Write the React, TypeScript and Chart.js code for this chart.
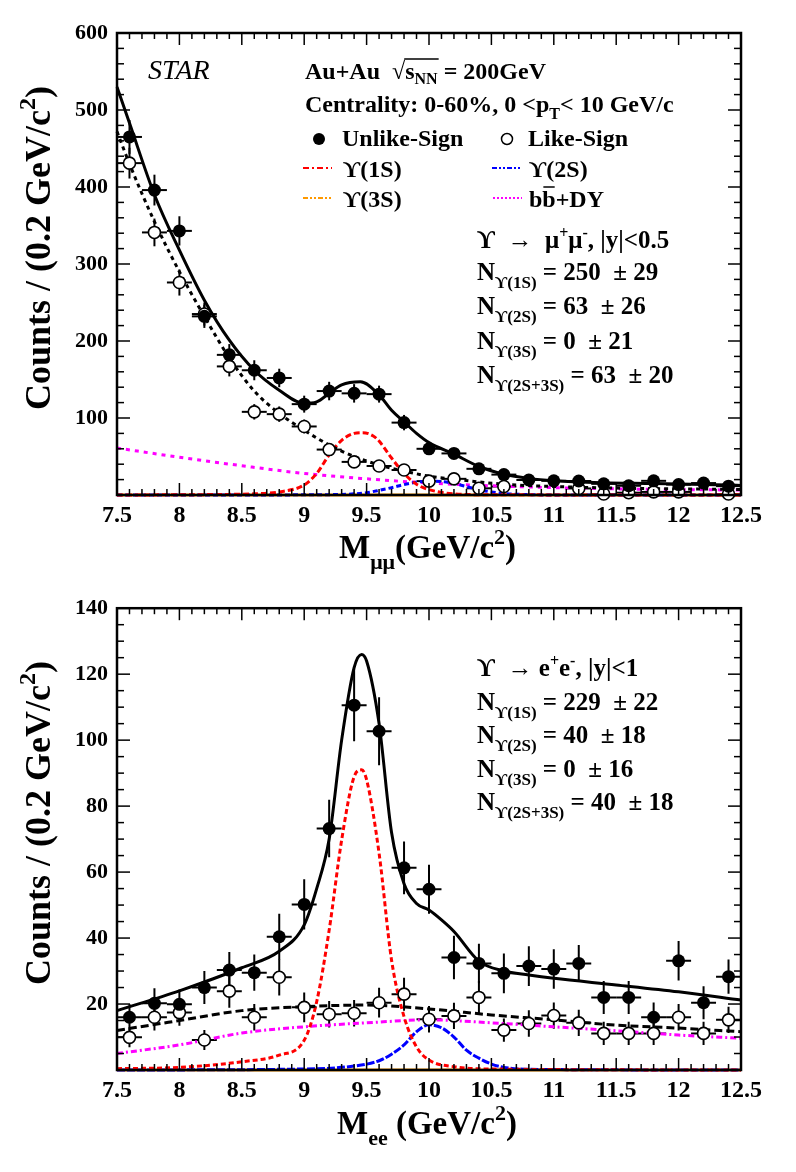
import React, { useEffect, useRef } from "react";
import { Chart, registerables } from "chart.js";
Chart.register(...registerables);

const FONT = '"Liberation Serif", "Times New Roman", "DejaVu Serif", serif';
const PAGE_W = 796;
const PANEL_H = 586;

// ---------- shared ----------
const binCenters = [7.6, 7.8, 8.0, 8.2, 8.4, 8.6, 8.8, 9.0, 9.2, 9.4, 9.6, 9.8, 10.0, 10.2, 10.4, 10.6, 10.8, 11.0, 11.2, 11.4, 11.6, 11.8, 12.0, 12.2, 12.4];
const binHalfWidth = 0.1;
const xTickLabels = ["7.5", "8", "8.5", "9", "9.5", "10", "10.5", "11", "11.5", "12", "12.5"];

// ---------- top panel: Upsilon -> mu+ mu- ----------
const muYTickLabels = ["", "100", "200", "300", "400", "500", "600"];
const muUnlike = [465, 396, 343, 232, 182, 162, 152, 118, 135, 132, 131, 94, 60, 54, 34, 26.5, 19.5, 18.4, 18.2, 14.5, 12, 18.4, 13.5, 15.5, 11.5];
const muUnlikeErr = [22, 20, 19, 15, 14, 13, 12, 11, 12, 12, 11, 10, 8, 7, 6, 5, 4.5, 4.5, 4.5, 4, 3.5, 4.5, 3.5, 4, 3.5];
const muLike = [431, 341, 276, 235, 167, 108, 105, 89, 59, 43, 37.7, 32.5, 18, 21, 8.7, 11, null, null, 8.5, 1.3, 3, 4, 4, null, 1.3];
const muLikeErr = [20, 18, 17, 15, 13, 10, 10, 9, 8, 6.5, 6, 5.5, 4.5, 4.5, 3, 3.5, 0, 0, 3, 1, 2, 2, 2, 0, 1];

const muTotalX = [7.5, 7.6, 7.8, 8.0, 8.2, 8.4, 8.6, 8.8, 9.0, 9.1, 9.2, 9.3, 9.45, 9.6, 9.7, 9.8, 9.9, 10.0, 10.2, 10.4, 10.6, 10.8, 11.0, 11.4, 11.8, 12.4, 12.5];
const muTotalY = [530, 483, 390, 318, 253, 201, 162, 136, 119, 121, 132, 143, 147, 130, 110, 95, 80, 68, 53, 37, 27, 21.6, 18.6, 16, 15, 13, 12.5];
const muLikeFitX = [7.5, 7.6, 7.8, 8.0, 8.2, 8.4, 8.6, 8.8, 9.0, 9.2, 9.4, 9.6, 9.8, 10.0, 10.2, 10.6, 11.0, 11.6, 12.4, 12.5];
const muLikeFitY = [472, 430, 355, 290, 232, 178, 135, 106, 84, 65, 50, 39, 31, 24.5, 20.5, 14, 11, 8.7, 7.4, 7.2];
const mu1SX = [7.5, 8.0, 8.4, 8.6, 8.8, 9.0, 9.1, 9.2, 9.3, 9.4, 9.47, 9.55, 9.6, 9.7, 9.8, 9.9, 10.0, 10.2, 10.5, 12.5];
const mu1SY = [0, 0.3, 0.8, 1.5, 4, 13, 28, 52, 71, 80, 81, 77, 70, 48, 28, 14, 7, 1.5, 0.3, 0];
const mu2SX = [7.5, 9.0, 9.3, 9.4, 9.5, 9.6, 9.7, 9.8, 9.9, 10.0, 10.1, 10.2, 10.3, 10.4, 10.5, 10.6, 10.8, 11.0, 12.5];
const mu2SY = [0, 0.2, 0.8, 1.5, 3, 6, 9.5, 13.5, 16.5, 18, 17.5, 15, 11, 7, 4, 2, 0.5, 0.1, 0];
const mu3SX = [7.5, 12.5];
const mu3SY = [0, 0];
const muBbX = [7.5, 8.0, 8.5, 9.0, 9.5, 10.0, 10.5, 11.0, 11.5, 12.0, 12.5];
const muBbY = [61, 49, 38, 28, 21, 15.5, 12, 9.5, 8, 7, 6.5];
const muYields = [["1S", "250", "29"], ["2S", "63", "26"], ["3S", "0", "21"], ["2S+3S", "63", "20"]];

// ---------- bottom panel: Upsilon -> e+ e- ----------
const eeYTickLabels = ["", "20", "40", "60", "80", "100", "120", "140"];
const eeUnlike = [16, 20.2, 19.9, 25, 30.3, 29.5, 40.4, 50.2, 73.2, 110.6, 102.7, 61.3, 54.8, 34.1, 32.3, 29.3, 31.5, 30.6, 32.3, 22, 22, 16, 33.1, 20.4, 28.3];
const eeUnlikeErr = [4, 4.6, 4.5, 5, 5.5, 5.5, 7, 7.6, 8.7, 10.9, 10.3, 8, 7.4, 6.6, 6, 6, 6, 6, 5.6, 5, 5, 4.5, 6, 5, 5.2];
const eeLike = [9.9, 16, 17.4, 9.1, 23.9, 16, 28.1, 19, 16.9, 17.2, 20.4, 23, 15.4, 16.4, 22, 12.1, 14.1, 16.5, 14.3, 11.1, 11.1, 11.1, 16, 11.1, 15.2];
const eeLikeErr = [3, 4, 4, 3, 5, 4, 5.5, 4.5, 4, 4, 4.5, 5, 4, 4, 5, 3.5, 4, 4, 4, 3.5, 3.5, 3.5, 4, 3.5, 4];

const eeTotalX = [7.5, 8.0, 8.5, 8.8, 9.0, 9.1, 9.2, 9.3, 9.4, 9.46, 9.5, 9.6, 9.7, 9.8, 9.9, 10.0, 10.1, 10.2, 10.4, 10.6, 10.8, 11.0, 11.5, 12.0, 12.5];
const eeTotalY = [18, 24, 31, 36, 44, 55, 70, 100, 122, 126, 124, 105, 72, 56.5, 50.5, 48.5, 45.5, 42, 33, 30, 28.8, 27.8, 25.8, 23.7, 21.2];
const eeLikeFitX = [7.5, 8.0, 8.5, 9.0, 9.5, 10.0, 10.5, 11.0, 11.5, 12.0, 12.5];
const eeLikeFitY = [12, 15, 18, 19.2, 19.7, 18.5, 16.7, 15.2, 13.6, 12.7, 11.6];
const ee1SX = [7.5, 8.0, 8.5, 8.8, 9.0, 9.1, 9.2, 9.3, 9.4, 9.46, 9.5, 9.6, 9.7, 9.8, 9.9, 10.0, 10.2, 10.5, 12.5];
const ee1SY = [0.4, 0.8, 2.5, 4.5, 9, 20.7, 42.4, 69.7, 88.9, 91, 88, 65.7, 33.3, 16.2, 7, 3, 1, 0.3, 0];
const ee2SX = [7.5, 9.0, 9.4, 9.6, 9.7, 9.8, 9.9, 10.0, 10.1, 10.2, 10.3, 10.4, 10.5, 10.6, 10.8, 12.5];
const ee2SY = [0, 0.3, 1.2, 2.8, 4.8, 7.6, 11.6, 13.7, 12.8, 10, 6, 3.6, 1.8, 0.8, 0.2, 0];
const ee3SX = [7.5, 12.5];
const ee3SY = [0, 0];
const eeBbX = [7.5, 8.0, 8.5, 9.0, 9.5, 10.0, 10.5, 11.0, 11.5, 12.0, 12.5];
const eeBbY = [5, 7.6, 11.2, 13.1, 14.3, 15.2, 14.3, 13.1, 11.9, 10.6, 9.6];
const eeYields = [["1S", "229", "22"], ["2S", "40", "18"], ["3S", "0", "16"], ["2S+3S", "40", "18"]];

// ---------- helpers ----------
type Seg = { t: string; s?: number; dy?: number };

function rich(ctx: CanvasRenderingContext2D, x: number, y: number, segs: Seg[], size: number, style = "bold"): number {
  let cx = x;
  for (const g of segs) {
    const sz = g.s ?? size;
    ctx.font = `${style} ${sz}px ${FONT}`;
    ctx.fillText(g.t, cx, y + (g.dy ?? 0));
    cx += ctx.measureText(g.t).width;
  }
  return cx;
}
function richWidth(ctx: CanvasRenderingContext2D, segs: Seg[], size: number, style = "bold"): number {
  let w = 0;
  for (const g of segs) {
    ctx.font = `${style} ${g.s ?? size}px ${FONT}`;
    w += ctx.measureText(g.t).width;
  }
  return w;
}
function seg(ctx: CanvasRenderingContext2D, x1: number, y1: number, x2: number, y2: number) {
  ctx.beginPath();
  ctx.moveTo(x1, y1);
  ctx.lineTo(x2, y2);
  ctx.stroke();
}

function pts(xs: number[], ys: (number | null)[], es?: number[]) {
  const out: any[] = [];
  xs.forEach((x, i) => {
    const y = ys[i];
    if (y === null || y === undefined) return;
    out.push({ x, y, e: es ? es[i] : 0 });
  });
  return out;
}

function curve(xs: number[], ys: number[], color: string, width: number, dash: number[]) {
  return {
    data: pts(xs, ys),
    showLine: true,
    pointRadius: 0,
    borderColor: color,
    borderWidth: width,
    borderDash: dash,
    cubicInterpolationMode: "monotone",
    fill: false,
    clip: 3,
  };
}

const framePlugin = (yMinor: number, yMajorEvery: number) => ({
  id: "frame",
  afterDraw(chart: any) {
    const { ctx, chartArea: a, scales } = chart;
    const xs = scales.x;
    const ys = scales.y;
    ctx.save();
    ctx.strokeStyle = "#000";
    ctx.setLineDash([]);
    ctx.lineWidth = 1.5;
    const nx = Math.round((xs.max - xs.min) / 0.1);
    for (let i = 0; i <= nx; i++) {
      const px = xs.getPixelForValue(xs.min + i * 0.1);
      const len = i % 5 === 0 ? 12 : 6;
      seg(ctx, px, a.bottom, px, a.bottom - len);
      seg(ctx, px, a.top, px, a.top + len);
    }
    const ny = Math.round((ys.max - ys.min) / yMinor);
    for (let i = 0; i <= ny; i++) {
      const py = ys.getPixelForValue(ys.min + i * yMinor);
      const len = i % yMajorEvery === 0 ? 13 : 7;
      seg(ctx, a.left, py, a.left + len, py);
      seg(ctx, a.right, py, a.right - len, py);
    }
    ctx.lineWidth = 2.5;
    ctx.strokeRect(a.left, a.top, a.right - a.left, a.bottom - a.top);
    ctx.restore();
  },
});

const errorBarPlugin = {
  id: "errbars",
  beforeDatasetsDraw(chart: any) {
    const { ctx, chartArea: a, scales } = chart;
    const xs = scales.x;
    const ys = scales.y;
    ctx.save();
    ctx.beginPath();
    ctx.rect(a.left, a.top, a.right - a.left, a.bottom - a.top);
    ctx.clip();
    ctx.strokeStyle = "#000";
    ctx.lineWidth = 2;
    ctx.setLineDash([]);
    chart.data.datasets.forEach((ds: any) => {
      if (!ds.errBars) return;
      ds.data.forEach((p: any) => {
        const px = xs.getPixelForValue(p.x);
        const py = ys.getPixelForValue(p.y);
        seg(ctx, xs.getPixelForValue(p.x - binHalfWidth), py, xs.getPixelForValue(p.x + binHalfWidth), py);
        if (p.e > 0) seg(ctx, px, ys.getPixelForValue(p.y - p.e), px, ys.getPixelForValue(p.y + p.e));
      });
    });
    ctx.restore();
  },
};

function drawYTitle(ctx: CanvasRenderingContext2D, cx: number, cy: number) {
  const segs: Seg[] = [{ t: "Counts / (0.2 GeV/c" }, { t: "2", s: 24, dy: -15 }, { t: ")" }];
  ctx.save();
  ctx.translate(cx, cy);
  ctx.rotate(-Math.PI / 2);
  const w = richWidth(ctx, segs, 36);
  rich(ctx, -w / 2, 0, segs, 36);
  ctx.restore();
}

function drawYields(ctx: CanvasRenderingContext2D, x: number, y0: number, step: number, rows: string[][]) {
  rows.forEach((r, i) => {
    rich(ctx, x, y0 + i * step, [{ t: "N" }, { t: `ϒ(${r[0]})`, s: 17, dy: 8 }, { t: ` = ${r[1]}  ± ${r[2]}` }], 25);
  });
}

function legendLine(ctx: CanvasRenderingContext2D, x1: number, x2: number, y: number, color: string, dash: number[]) {
  ctx.save();
  ctx.strokeStyle = color;
  ctx.lineWidth = 2;
  ctx.setLineDash(dash);
  seg(ctx, x1, y, x2, y);
  ctx.restore();
}

function annotateTop(chart: any) {
  const ctx: CanvasRenderingContext2D = chart.ctx;
  ctx.save();
  ctx.fillStyle = "#000";
  ctx.textAlign = "left";
  ctx.textBaseline = "alphabetic";
  ctx.font = `italic 28px ${FONT}`;
  ctx.fillText("STAR", 148, 79);

  // line 1
  let x = rich(ctx, 305, 79, [{ t: "Au+Au  " }, { t: "√" }], 24);
  const sx = x;
  x = rich(ctx, x, 79, [{ t: "s" }, { t: "NN", s: 16, dy: 5 }], 24);
  ctx.strokeStyle = "#000";
  ctx.lineWidth = 1.5;
  seg(ctx, sx - 1, 59, x + 1, 59);
  rich(ctx, x, 79, [{ t: " = 200GeV" }], 24);

  // line 2
  rich(ctx, 305, 112, [{ t: "Centrality: 0-60%, 0 <p" }, { t: "T", s: 16, dy: 7 }, { t: "< 10 GeV/c" }], 24);

  // line 3: markers
  ctx.beginPath();
  ctx.arc(319, 139, 6, 0, Math.PI * 2);
  ctx.fill();
  rich(ctx, 342, 146, [{ t: "Unlike-Sign" }], 24);
  ctx.beginPath();
  ctx.arc(507, 139, 5.5, 0, Math.PI * 2);
  ctx.fillStyle = "#fff";
  ctx.fill();
  ctx.lineWidth = 1.5;
  ctx.strokeStyle = "#000";
  ctx.stroke();
  ctx.fillStyle = "#000";
  rich(ctx, 528, 146, [{ t: "Like-Sign" }], 24);

  // line 4, 5
  legendLine(ctx, 303, 332, 168, "#ff0000", [6, 3, 2, 3]);
  rich(ctx, 343, 177, [{ t: "ϒ(1S)" }], 24);
  legendLine(ctx, 492, 520, 168, "#0000ff", [5, 2, 2, 2, 2, 2]);
  rich(ctx, 529, 177, [{ t: "ϒ(2S)" }], 24);
  legendLine(ctx, 303, 332, 198, "#ff9900", [5, 2, 2, 2, 2, 2]);
  rich(ctx, 343, 207, [{ t: "ϒ(3S)" }], 24);
  legendLine(ctx, 493, 522, 198, "#ff00ff", [2, 2]);
  let bx = rich(ctx, 529, 207, [{ t: "b" }], 24);
  const bx2 = rich(ctx, bx, 207, [{ t: "b" }], 24);
  ctx.lineWidth = 1.5;
  seg(ctx, bx + 1, 187, bx2 - 1, 187);
  rich(ctx, bx2, 207, [{ t: "+DY" }], 24);

  // fit results
  rich(ctx, 477, 248, [{ t: "ϒ  →  μ" }, { t: "+", s: 16, dy: -10 }, { t: "μ" }, { t: "-", s: 16, dy: -10 }, { t: ", |y|<0.5" }], 25);
  drawYields(ctx, 477, 280, 34.3, muYields);

  // axis titles
  rich(ctx, 339, 558, [{ t: "M" }, { t: "μμ", s: 22, dy: 11 }, { t: "(GeV/c" }, { t: "2", s: 22, dy: -14 }, { t: ")" }], 33);
  drawYTitle(ctx, 50, 248);
  ctx.restore();
}

function annotateBottom(chart: any) {
  const ctx: CanvasRenderingContext2D = chart.ctx;
  ctx.save();
  ctx.fillStyle = "#000";
  ctx.textAlign = "left";
  ctx.textBaseline = "alphabetic";
  rich(ctx, 477, 90, [{ t: "ϒ  → e" }, { t: "+", s: 16, dy: -10 }, { t: "e" }, { t: "-", s: 16, dy: -10 }, { t: ", |y|<1" }], 25);
  drawYields(ctx, 477, 124, 33.4, eeYields);
  rich(ctx, 337, 548, [{ t: "M" }, { t: "ee", s: 22, dy: 11 }, { t: " (GeV/c" }, { t: "2", s: 22, dy: -14 }, { t: ")" }], 33);
  drawYTitle(ctx, 50, 237);
  ctx.restore();
}

type PanelSpec = {
  yMax: number;
  yStep: number;
  yMinor: number;
  yMajorEvery: number;
  yLabels: string[];
  padTop: number;
  xAxisH: number;
  unlike: number[];
  unlikeErr: number[];
  like: (number | null)[];
  likeErr: number[];
  curves: any[];
  annotate: (chart: any) => void;
};

function makeConfig(p: PanelSpec): any {
  const datasets: any[] = [
    {
      data: pts(binCenters, p.unlike, p.unlikeErr),
      errBars: true,
      showLine: false,
      pointRadius: 6.5,
      pointBackgroundColor: "#000",
      pointBorderColor: "#000",
      pointBorderWidth: 0,
      clip: 8,
    },
    {
      data: pts(binCenters, p.like, p.likeErr),
      errBars: true,
      showLine: false,
      pointRadius: 6,
      pointBackgroundColor: "#fff",
      pointBorderColor: "#000",
      pointBorderWidth: 1.6,
      clip: 8,
    },
    ...p.curves,
  ];
  return {
    type: "scatter",
    data: { datasets },
    options: {
      animation: false,
      responsive: false,
      devicePixelRatio: 1,
      events: [],
      layout: { padding: { left: 0, right: 55, top: p.padTop, bottom: 0 } },
      plugins: { legend: { display: false }, tooltip: { enabled: false }, title: { display: false } },
      scales: {
        x: {
          type: "linear",
          min: 7.5,
          max: 12.5,
          afterFit: (s: any) => {
            s.height = p.xAxisH;
          },
          ticks: {
            stepSize: 0.5,
            autoSkip: false,
            maxRotation: 0,
            padding: 6,
            color: "#000",
            font: { family: FONT, size: 24, weight: "bold" },
            callback: (_v: any, i: number) => xTickLabels[i] ?? "",
          },
          grid: { display: false, drawTicks: false },
          border: { display: false },
        },
        y: {
          type: "linear",
          min: 0,
          max: p.yMax,
          afterFit: (s: any) => {
            s.width = 117;
          },
          ticks: {
            stepSize: p.yStep,
            padding: 9,
            color: "#000",
            font: { family: FONT, size: 22, weight: "bold" },
            callback: (_v: any, i: number) => p.yLabels[i] ?? "",
          },
          grid: { display: false, drawTicks: false },
          border: { display: false },
        },
      },
    },
    plugins: [errorBarPlugin, framePlugin(p.yMinor, p.yMajorEvery), { id: "annot", afterDraw: p.annotate }],
  };
}

const topSpec: PanelSpec = {
  yMax: 600,
  yStep: 100,
  yMinor: 20,
  yMajorEvery: 5,
  yLabels: muYTickLabels,
  padTop: 33,
  xAxisH: 91,
  unlike: muUnlike,
  unlikeErr: muUnlikeErr,
  like: muLike,
  likeErr: muLikeErr,
  curves: [
    curve(muTotalX, muTotalY, "#000", 3, []),
    curve(muLikeFitX, muLikeFitY, "#000", 3, [4, 4]),
    curve(mu1SX, mu1SY, "#ff0000", 3, [6, 3]),
    curve(mu2SX, mu2SY, "#0000ff", 3, [5, 3]),
    curve(muBbX, muBbY, "#ff00ff", 3, [4, 5]),
    curve(mu3SX, mu3SY, "#ff9900", 3, []),
  ],
  annotate: annotateTop,
};

const bottomSpec: PanelSpec = {
  yMax: 140,
  yStep: 20,
  yMinor: 5,
  yMajorEvery: 4,
  yLabels: eeYTickLabels,
  padTop: 22,
  xAxisH: 102,
  unlike: eeUnlike,
  unlikeErr: eeUnlikeErr,
  like: eeLike,
  likeErr: eeLikeErr,
  curves: [
    curve(eeTotalX, eeTotalY, "#000", 3, []),
    curve(eeLikeFitX, eeLikeFitY, "#000", 3, [8, 4]),
    curve(ee1SX, ee1SY, "#ff0000", 3, [5, 3]),
    curve(ee2SX, ee2SY, "#0000ff", 3, [8, 2]),
    curve(eeBbX, eeBbY, "#ff00ff", 3, [6, 3, 2, 3]),
    curve(ee3SX, ee3SY, "#ff9900", 3, []),
  ],
  annotate: annotateBottom,
};

function Panel({ spec, top }: { spec: PanelSpec; top: number }) {
  const ref = useRef<HTMLCanvasElement | null>(null);
  useEffect(() => {
    if (!ref.current) return;
    const chart = new Chart(ref.current, makeConfig(spec));
    return () => chart.destroy();
  }, [spec]);
  return (
    <canvas
      ref={ref}
      width={PAGE_W}
      height={PANEL_H}
      style={{ position: "absolute", left: 0, top, width: PAGE_W, height: PANEL_H }}
    />
  );
}

export default function App() {
  return (
    <div style={{ position: "absolute", left: 0, top: 0, width: PAGE_W, height: 1172, background: "#fff" }}>
      <Panel spec={topSpec} top={0} />
      <Panel spec={bottomSpec} top={PANEL_H} />
    </div>
  );
}
